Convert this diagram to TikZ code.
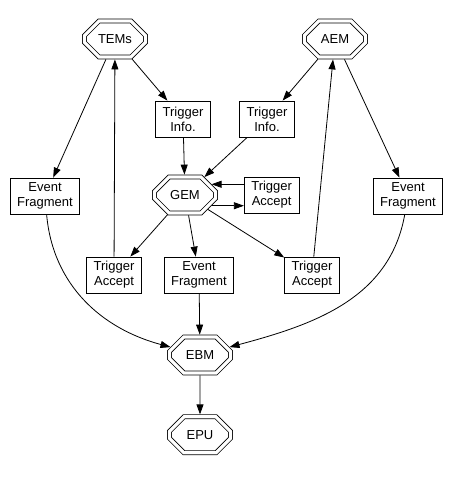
\documentclass[tikz,border=0pt]{standalone}
\usepackage{fontspec}
\setmainfont{Liberation Sans}
\usetikzlibrary{shapes.misc, arrows.meta, positioning}

\begin{document}
\begin{tikzpicture}[x=1pt, y=1pt,
  box/.style={rectangle, draw, line width=0.8pt, minimum width=54pt, minimum height=36pt, inner xsep=7pt, inner ysep=2pt, align=center, font=\fontsize{13}{15}\selectfont},
  octo/.style={chamfered rectangle, chamfered rectangle xsep=13pt, chamfered rectangle ysep=10pt, draw, double, double distance=3.2pt, line width=0.8pt, minimum width=61pt, minimum height=36pt, inner sep=0pt, outer sep=2.4pt, font=\fontsize{13}{15}\selectfont},
  arr/.style={-{Triangle[length=10pt, width=7pt]}, line width=0.8pt},
]
\useasboundingbox (0,0) rectangle (452,-477);

\node[octo] (tems) at (115,-39) {TEMs};
\node[octo] (aem) at (335,-39) {AEM};
\node[box] (infoL) at (183,-119) {Trigger\\Info.};
\node[box] (infoR) at (267,-119) {Trigger\\Info.};
\node[box] (fragL) at (45,-196) {Event\\Fragment};
\node[octo] (gem) at (185,-195) {GEM};
\node[box, right=26pt of gem] (acceptR) {Trigger\\Accept};
\node[box] (fragR) at (408,-196) {Event\\Fragment};
\node[box] (acceptL) at (114,-275) {Trigger\\Accept};
\node[box] (fragM) at (199,-275) {Event\\Fragment};
\node[box] (acceptLR) at (312,-275) {Trigger\\Accept};
\node[octo] (ebm) at (200,-355) {EBM};
\node[octo, below=39pt of ebm] (epu) {EPU};

% Arrows
\draw[arr] (tems) -- (infoL);
\draw[arr] (tems) -- (fragL);
\draw[arr] (acceptL) -- (tems);
\draw[arr] (aem) -- (infoR);
\draw[arr] (aem) -- (fragR);
\draw[arr] (acceptLR) -- (aem);
\draw[arr] (infoL) -- (gem);
\draw[arr] (infoR) -- (gem);
\draw[arr] (acceptR.west |- gem.22) -- (gem.22);
\draw[arr] (gem.-22) -- (acceptR.west |- gem.-22);
\draw[arr] (gem) -- (acceptL);
\draw[arr] (gem) -- (fragM);
\draw[arr] (gem) -- (acceptLR);
\draw[arr] (fragL) to[out=-85, in=165] (ebm);
\draw[arr] (fragM) -- (ebm);
\draw[arr] (fragR) to[out=-100, in=15] (ebm);
\draw[arr] (ebm) -- (epu);
\end{tikzpicture}
\end{document}
